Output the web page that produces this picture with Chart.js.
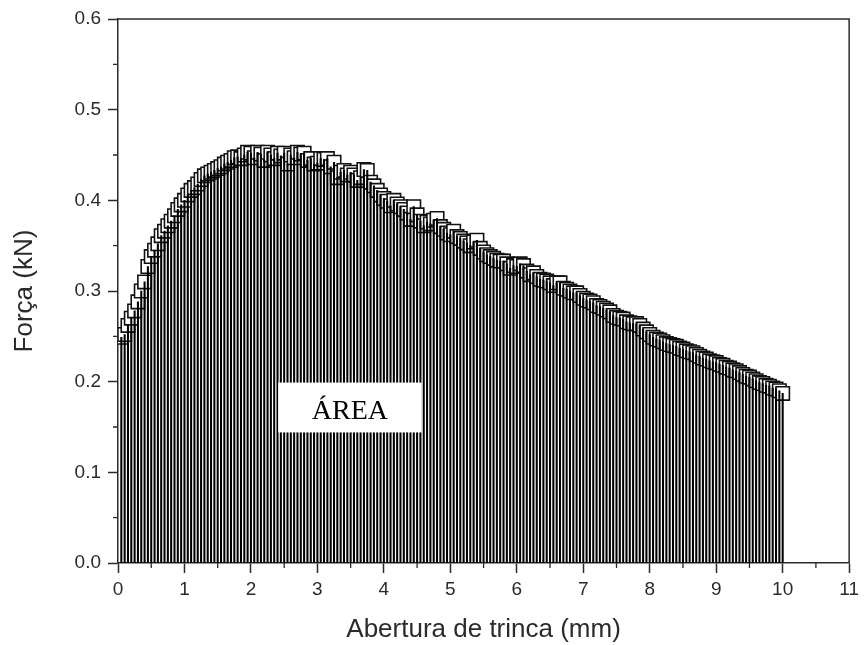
<!DOCTYPE html>
<html>
<head>
<meta charset="utf-8">
<script src="https://cdn.jsdelivr.net/npm/chart.js@4/dist/chart.umd.min.js"></script>
<style>
  body { margin: 0; background: #fff; }
  #wrap { width: 864px; height: 645px; }
</style>
</head>
<body>
<div id="wrap"><canvas id="forceChart" width="864" height="645"></canvas></div>
<script>
// Crack opening (mm) and force (kN) readings
const opening = [
  0.05, 0.10, 0.15, 0.20, 0.25, 0.30, 0.35, 0.40, 0.45, 0.50, 0.55, 0.60, 0.65, 0.70, 0.75, 0.80, 0.85, 0.90, 0.95, 1.00,
  1.05, 1.10, 1.15, 1.20, 1.25, 1.30, 1.35, 1.40, 1.45, 1.50, 1.55, 1.60, 1.65, 1.70, 1.75, 1.80, 1.85, 1.90, 1.95, 2.00,
  2.05, 2.10, 2.15, 2.20, 2.25, 2.30, 2.35, 2.40, 2.45, 2.50, 2.55, 2.60, 2.65, 2.70, 2.75, 2.80, 2.85, 2.90, 2.95, 3.00,
  3.05, 3.10, 3.15, 3.20, 3.25, 3.30, 3.35, 3.40, 3.45, 3.50, 3.55, 3.60, 3.65, 3.70, 3.75, 3.80, 3.85, 3.90, 3.95, 4.00,
  4.05, 4.10, 4.15, 4.20, 4.25, 4.30, 4.35, 4.40, 4.45, 4.50, 4.55, 4.60, 4.65, 4.70, 4.75, 4.80, 4.85, 4.90, 4.95, 5.00,
  5.05, 5.10, 5.15, 5.20, 5.25, 5.30, 5.35, 5.40, 5.45, 5.50, 5.55, 5.60, 5.65, 5.70, 5.75, 5.80, 5.85, 5.90, 5.95, 6.00,
  6.05, 6.10, 6.15, 6.20, 6.25, 6.30, 6.35, 6.40, 6.45, 6.50, 6.55, 6.60, 6.65, 6.70, 6.75, 6.80, 6.85, 6.90, 6.95, 7.00,
  7.05, 7.10, 7.15, 7.20, 7.25, 7.30, 7.35, 7.40, 7.45, 7.50, 7.55, 7.60, 7.65, 7.70, 7.75, 7.80, 7.85, 7.90, 7.95, 8.00,
  8.05, 8.10, 8.15, 8.20, 8.25, 8.30, 8.35, 8.40, 8.45, 8.50, 8.55, 8.60, 8.65, 8.70, 8.75, 8.80, 8.85, 8.90, 8.95, 9.00,
  9.05, 9.10, 9.15, 9.20, 9.25, 9.30, 9.35, 9.40, 9.45, 9.50, 9.55, 9.60, 9.65, 9.70, 9.75, 9.80, 9.85, 9.90, 9.95, 10.00
];

const force = [
  0.249, 0.252, 0.262, 0.270, 0.278, 0.288, 0.300, 0.310, 0.327, 0.338, 0.345, 0.352, 0.361, 0.366, 0.372, 0.377, 0.383, 0.390, 0.395, 0.400,
  0.406, 0.411, 0.414, 0.418, 0.423, 0.427, 0.429, 0.431, 0.433, 0.435, 0.437, 0.440, 0.442, 0.444, 0.447, 0.448, 0.446, 0.450, 0.453, 0.452,
  0.447, 0.453, 0.451, 0.444, 0.453, 0.450, 0.446, 0.452, 0.449, 0.452, 0.440, 0.450, 0.447, 0.453, 0.451, 0.452, 0.444, 0.446, 0.440, 0.441,
  0.446, 0.445, 0.446, 0.437, 0.442, 0.425, 0.431, 0.433, 0.428, 0.431, 0.428, 0.422, 0.425, 0.434, 0.433, 0.420, 0.416, 0.411, 0.406, 0.402,
  0.399, 0.394, 0.400, 0.396, 0.393, 0.390, 0.386, 0.379, 0.393, 0.384, 0.377, 0.372, 0.376, 0.374, 0.378, 0.380, 0.371, 0.368, 0.364, 0.362,
  0.366, 0.360, 0.358, 0.355, 0.353, 0.350, 0.354, 0.356, 0.347, 0.343, 0.340, 0.338, 0.336, 0.334, 0.333, 0.333, 0.330, 0.325, 0.328, 0.327,
  0.330, 0.328, 0.322, 0.318, 0.320, 0.316, 0.313, 0.312, 0.311, 0.309, 0.306, 0.309, 0.309, 0.303, 0.302, 0.300, 0.298, 0.298, 0.295, 0.292,
  0.290, 0.289, 0.287, 0.284, 0.283, 0.281, 0.279, 0.277, 0.273, 0.271, 0.270, 0.269, 0.266, 0.265, 0.264, 0.264, 0.262, 0.258, 0.255, 0.252,
  0.249, 0.247, 0.246, 0.244, 0.242, 0.241, 0.240, 0.239, 0.237, 0.236, 0.234, 0.233, 0.232, 0.230, 0.228, 0.226, 0.225, 0.223, 0.222, 0.221,
  0.219, 0.218, 0.216, 0.215, 0.213, 0.212, 0.210, 0.208, 0.206, 0.205, 0.203, 0.201, 0.199, 0.198, 0.196, 0.195, 0.193, 0.192, 0.190, 0.187
];

// Axis ranges and labels
const xRange = [0, 11];
const yRange = [0, 0.6];
const xTitle = 'Abertura de trinca (mm)';
const yTitle = 'Força (kN)';
const areaLabel = 'ÁREA';

const axisColor = '#2b2b2b';
const sans = '"Liberation Sans", Arial, sans-serif';
const points = opening.map((x, i) => ({ x: x, y: force[i] }));

// Box around the plot plus short minor ticks between the labelled ones
const frameAndMinorTicks = {
  id: 'frameAndMinorTicks',
  afterDraw(chart) {
    const { ctx, chartArea: a, scales } = chart;
    ctx.save();
    ctx.strokeStyle = axisColor;
    ctx.lineWidth = 1.5;
    ctx.beginPath();
    ctx.moveTo(a.left, a.top);
    ctx.lineTo(a.right, a.top);
    ctx.lineTo(a.right, a.bottom);
    ctx.stroke();

    ctx.lineWidth = 1.3;
    ctx.beginPath();
    for (let v = 0.5; v < xRange[1]; v += 1) {
      const px = scales.x.getPixelForValue(v);
      ctx.moveTo(px, a.bottom);
      ctx.lineTo(px, a.bottom + 5);
    }
    for (let v = 0.05; v < yRange[1]; v += 0.1) {
      const py = scales.y.getPixelForValue(v);
      ctx.moveTo(a.left, py);
      ctx.lineTo(a.left - 5, py);
    }
    ctx.stroke();
    ctx.restore();
  }
};

// White label box sitting on the hatched area
const areaBox = {
  id: 'areaBox',
  afterDatasetsDraw(chart) {
    const { ctx, scales } = chart;
    const x0 = scales.x.getPixelForValue(2.41);
    const x1 = scales.x.getPixelForValue(4.57);
    const y0 = scales.y.getPixelForValue(0.199);
    const y1 = scales.y.getPixelForValue(0.144);
    ctx.save();
    ctx.fillStyle = '#fff';
    ctx.fillRect(x0, y0, x1 - x0, y1 - y0);
    ctx.fillStyle = '#000';
    ctx.font = '28px "Liberation Serif", "Times New Roman", serif';
    ctx.textAlign = 'center';
    ctx.textBaseline = 'middle';
    ctx.fillText(areaLabel, (x0 + x1) / 2, (y0 + y1) / 2 + 4);
    ctx.restore();
  }
};

function createChart() {
  const canvasElement = document.getElementById('forceChart');
  const chartContext = canvasElement.getContext('2d');

  return new Chart(chartContext, {
    type: 'scatter',
    data: {
      datasets: [
        {
          // drop lines from each reading to the baseline
          type: 'bar',
          data: points,
          backgroundColor: '#000',
          barThickness: 1.4,
          order: 0,
        },
        {
          type: 'scatter',
          data: points,
          pointStyle: 'rect',
          pointRadius: 9.5,
          pointBackgroundColor: '#fff',
          pointBorderColor: '#111',
          pointBorderWidth: 1.6,
          order: 1,
        },
      ],
    },
    options: {
      responsive: false,
      animation: false,
      devicePixelRatio: 1,
      layout: { padding: { top: 19, right: 8, left: 0, bottom: 0 } },
      plugins: {
        legend: { display: false },
        tooltip: { enabled: false },
      },
      scales: {
        x: {
          type: 'linear',
          offset: false,
          min: xRange[0],
          max: xRange[1],
          afterFit: (scale) => { scale.height = 82; },
          ticks: {
            stepSize: 1,
            color: axisColor,
            padding: 5,
            font: { family: sans, size: 19 },
          },
          grid: { offset: false, drawOnChartArea: false, drawTicks: true, tickLength: 10, tickColor: axisColor, tickWidth: 1.5 },
          border: { display: true, color: axisColor, width: 1.5 },
          title: {
            display: true,
            text: xTitle,
            color: axisColor,
            font: { family: sans, size: 26, lineHeight: 1 },
            padding: { top: 0, bottom: 2 },
          },
        },
        y: {
          min: yRange[0],
          max: yRange[1],
          afterFit: (scale) => { scale.width = 118; },
          ticks: {
            stepSize: 0.1,
            color: axisColor,
            padding: 7,
            font: { family: sans, size: 19 },
            callback: (v) => Number(v).toFixed(1),
          },
          grid: { drawOnChartArea: false, drawTicks: true, tickLength: 10, tickColor: axisColor, tickWidth: 1.5 },
          border: { display: true, color: axisColor, width: 1.5 },
          title: {
            display: true,
            text: yTitle,
            color: axisColor,
            font: { family: sans, size: 26, lineHeight: 1 },
            padding: { top: 12, bottom: 0 },
          },
        },
      },
    },
    plugins: [areaBox, frameAndMinorTicks],
  });
}

createChart();
</script>
</body>
</html>
